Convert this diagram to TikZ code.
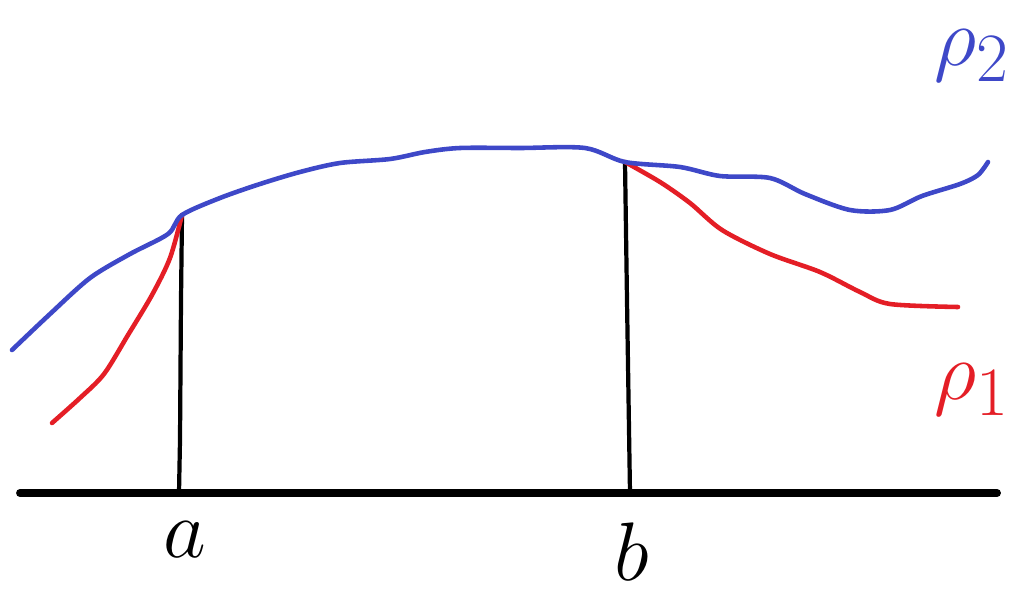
\documentclass[tikz,border=0pt]{standalone}
\usetikzlibrary{positioning}
\definecolor{penblue}{RGB}{62,72,200}
\definecolor{penred}{RGB}{228,30,38}
\begin{document}
\begin{tikzpicture}[x=0.02cm,y=-0.02cm,line cap=round,line join=round]
        \useasboundingbox (0,0) rectangle (1029,602);
        \tikzset{
          bluecurve/.style={draw=penblue,line width=2.6pt},
          redcurve/.style={draw=penred,line width=2.6pt},
          stick/.style={draw=black,line width=2.4pt},
          hand/.style={font=\Huge,scale=1.9,transform shape}
        }

        % points where the curves meet
        \coordinate (atop) at (182,215);
        \coordinate (abot) at (179,493);
        \coordinate (btop) at (625,162);
        \coordinate (bbot) at (630,493);
        \coordinate (xl) at (20,493);
        \coordinate (xr) at (997,493);

        \draw[black,line width=4.5pt] (xl) -- (xr);

        \draw[stick] (atop) -- (181,300) -- (180,440) -- (abot);
        \draw[stick] (btop) -- (627,300) -- (bbot);

        \draw[redcurve] plot[smooth,tension=0.5] coordinates {(52,423) (80,398) (104,374) (128,335) (152,295) (170,258) (atop)};
        \draw[redcurve] plot[smooth,tension=0.5] coordinates {(btop) (660,182) (690,203) (722,230) (770,254) (820,272) (860,292) (890,304) (958,307)};

        \draw[bluecurve] plot[smooth,tension=0.5] coordinates {(12,350) (50,314) (90,278) (130,254) (168,234) (atop) (220,198) (260,184) (300,172) (340,163) (390,159) (425,152) (460,148) (520,148) (585,148) (btop) (680,167) (720,176) (770,178) (805,194) (850,210) (890,210) (922,196) (960,184) (978,175) (988,162)};

        \node[hand,text=penblue] (rhotwo) at (972,56) {$\rho_2$};
        \node[hand,text=penred] (rhoone) at (972,390) {$\rho_1$};
        \node[hand] (alab) at (185,540) {$a$};
        \node[hand] (blab) at (632,552) {$b$};
\end{tikzpicture}
\end{document}
